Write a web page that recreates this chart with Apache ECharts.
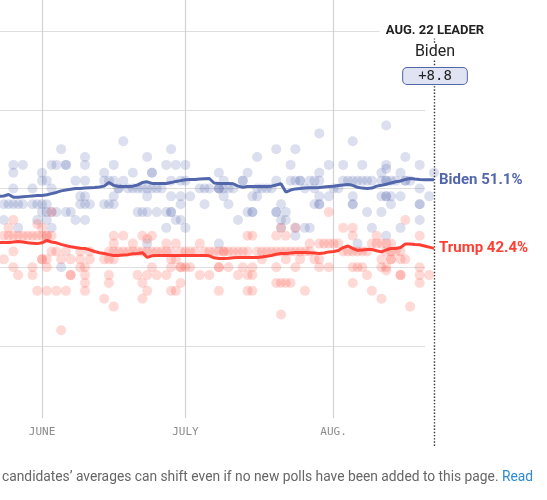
<!DOCTYPE html>
<html><head><meta charset="utf-8">
<script src="https://cdn.jsdelivr.net/npm/echarts@6/dist/echarts.min.js"></script>
<style>html,body{margin:0;padding:0;background:#fff}#c{width:547px;height:500px}</style>
</head><body><div id="c"></div>
<script>
// ---- data ----
const monthTicks = ['6/1', '7/1', '8/1'];
const monthLabels = ['JUNE', 'JULY', 'AUG.'];
const yGridValues = [30, 40, 50, 60, 70];
const leaderDate = '8/22';
const leaderLabel = 'AUG. 22 LEADER';
const leaderName = 'Biden';
const leaderMargin = 8.8;
const candidates = ['Biden', 'Trump'];

const avgStart = '5/23'; // one value per day from here to 8/22
const bidenAvg = [
  49.0, 49.05, 49.24, 48.9, 48.9, 48.95, 49.0, 49.05, 49.1,
  49.1, 49.2, 49.35, 49.5, 49.7, 49.8, 49.9, 50.0, 50.0, 50.05,
  50.1, 50.13, 50.2, 50.3, 50.76, 50.4, 50.25, 50.25, 50.25, 50.3,
  50.45, 50.75, 50.85, 50.65, 50.63, 50.63, 50.63, 50.75, 50.9, 51.0,
  51.1, 51.14, 51.15, 51.2, 51.25, 51.27, 50.7, 50.65, 50.65, 50.63,
  50.6, 50.3, 50.15, 50.25, 50.25, 50.25, 50.25, 50.25, 50.3, 50.45,
  50.6, 49.55, 49.8, 49.95, 50.0, 50.05, 50.1, 50.1, 50.13, 50.2, 50.25,
  50.3, 50.38, 50.45, 50.5, 50.4, 50.15, 50.05, 50.0, 50.05, 50.3,
  50.4, 50.55, 50.7, 50.85, 50.95, 51.15, 51.27, 51.2, 51.14, 51.1, 51.1, 51.1
];
const trumpAvg = [
  43.14, 43.14, 43.14, 43.2, 43.27, 43.2, 43.1, 43.05, 43.0,
  43.1, 43.4, 43.2, 43.1, 42.9, 42.75, 42.6, 42.5, 42.4, 42.38,
  42.2, 42.0, 41.85, 41.75, 41.6, 41.5, 41.5, 41.55, 41.6, 41.7,
  41.75, 41.85, 41.25, 41.45, 41.5, 41.5, 41.5, 41.5, 41.5, 41.5,
  41.5, 41.5, 41.5, 41.5, 41.5, 41.45, 41.2, 41.11, 41.11, 41.15,
  41.2, 41.24, 41.24, 41.24, 41.24, 41.25, 41.3, 41.4, 41.5, 41.65,
  41.75, 41.75, 41.8, 41.87, 41.87, 41.87, 41.85, 41.8, 41.75, 41.8, 41.95,
  42.0, 42.13, 42.5, 42.7, 42.4, 42.15, 42.2, 42.25, 42.25, 42.1,
  41.95, 42.2, 42.38, 42.38, 42.5, 42.95, 42.95, 42.89, 42.85, 42.7, 42.55, 42.4
];

const bidenPolls = [
  ['5/23',54],['5/23',48],['5/24',48],['5/24',46],['5/25',48],
  ['5/26',53],['5/26',52],['5/26',50],['5/26',48],['5/27',48],['5/27',45],
  ['5/28',53],['5/28',48],['5/30',50],['5/30',48],['5/31',48],['5/31',46],
  ['6/1',52],['6/1',51],['6/1',48],['6/1',47],['6/2',51],['6/2',48],['6/2',47],['6/2',46],
  ['6/3',53],['6/3',50],['6/3',47],['6/3',45],['6/4',53],['6/4',47],['6/5',55],['6/5',40],
  ['6/6',53],['6/6',53],['6/6',47],['6/7',47],['6/8',51],['6/8',46],['6/9',49],['6/9',48],
  ['6/10',54],['6/10',53],['6/10',51],['6/10',49],['6/10',48],['6/10',46],['6/11',48],
  ['6/14',52],['6/14',51],['6/14',48],['6/15',51],['6/15',48],
  ['6/16',53],['6/16',51],['6/16',49],['6/16',48],['6/17',50],['6/17',50],['6/18',56],['6/18',51],
  ['6/19',50],['6/20',52],['6/20',50],['6/21',50],['6/21',47],['6/22',50],['6/22',47],
  ['6/23',54],['6/23',50],['6/23',49],['6/23',47],['6/23',43],['6/24',52],['6/24',52],['6/24',50],
  ['6/25',50],['6/25',47],['6/26',50],['6/27',53],['6/27',47],['6/27',45],
  ['6/28',55],['6/28',51],['6/28',49],['6/28',47],['6/28',47],['6/29',53],['6/29',46],
  ['6/30',51],['6/30',49],['6/30',48],['6/30',46],['7/1',53],['7/1',51],['7/1',45],['7/2',49],
  ['7/4',50],['7/5',50],['7/5',48],['7/6',50],
  ['7/8',52],['7/8',50],['7/8',50],['7/8',50],['7/8',43],['7/9',51],['7/9',50],['7/9',49],
  ['7/10',50],['7/10',48],['7/11',50],['7/12',46],['7/13',51],['7/13',51],['7/14',52],['7/14',47],
  ['7/15',49],['7/15',47],['7/15',47],['7/16',54],['7/16',50],['7/16',49],['7/17',50],['7/18',50],['7/19',50],
  ['7/20',55],['7/20',51],['7/20',47],['7/20',47],['7/21',48],['7/21',46],['7/21',45],['7/22',47],['7/22',46],
  ['7/23',53],['7/23',51],['7/24',55],['7/24',51],['7/24',45],['7/24',44],['7/25',51],['7/25',51],
  ['7/26',50],['7/26',45],['7/27',51],['7/27',45],['7/28',51],['7/28',50],['7/28',48],
  ['7/29',57],['7/29',52],['7/29',51],['7/29',49],['7/29',48],['7/29',48],['7/31',53],['7/31',49],
  ['8/1',50],['8/2',50],['8/3',53],['8/3',51],['8/4',51],
  ['8/5',56],['8/5',51],['8/5',49],['8/5',48],['8/5',48],['8/6',51],['8/6',43],['8/7',53],['8/7',51],
  ['8/8',51],['8/8',47],['8/9',51],['8/9',45],['8/11',52],['8/11',51],['8/11',49],['8/11',47],
  ['8/12',58],['8/12',53],['8/12',52.5],['8/12',51],['8/12',51],['8/12',49],['8/12',49],['8/12',44],
  ['8/13',51],['8/13',49],['8/13',48],['8/14',51],['8/15',52],['8/15',49],['8/15',45],
  ['8/16',54],['8/16',51],['8/16',51],['8/17',51],
  ['8/19',53],['8/19',50],['8/19',48],['8/19',48],['8/19',46],['8/21',49],['8/22',52]
];
const trumpPolls = [
  ['5/23',44],['5/24',44],['5/24',41],['5/25',45],['5/25',44],
  ['5/26',46],['5/26',44],['5/26',42],['5/26',40],['5/27',44],['5/27',39],['5/28',44],['5/29',44],
  ['5/30',44],['5/30',40],['5/30',39],['5/31',45.5],['5/31',44],['5/31',37],
  ['6/1',45],['6/1',44],['6/1',41],['6/1',41],['6/2',44],['6/2',44],['6/2',41],['6/2',40],['6/2',37],
  ['6/3',47],['6/3',44],['6/3',42],['6/4',42],['6/4',37],['6/5',41],['6/5',32],['6/6',42],['6/6',37],
  ['6/7',41],['6/7',39],['6/7',39],['6/9',42],['6/9',41],['6/9',40],
  ['6/10',40],['6/10',39],['6/10',38],['6/10',37],['6/11',42],['6/11',41],['6/14',41],['6/14',36],
  ['6/15',42],['6/15',41],['6/15',39],['6/15',38],
  ['6/16',44],['6/16',43],['6/16',42],['6/16',41],['6/16',35],['6/17',42],['6/18',44],['6/18',42],
  ['6/19',42],['6/20',43],['6/20',42],['6/21',42],['6/21',39],['6/22',44],['6/22',42],['6/22',38],['6/22',36],
  ['6/23',43.6],['6/23',42],['6/23',39],['6/23',37],['6/24',44],['6/24',42],['6/24',40],
  ['6/25',42],['6/25',39],['6/26',42],['6/27',43],['6/27',42],['6/27',39],
  ['6/28',42],['6/28',41],['6/28',40],['6/28',37],['6/29',43],['6/29',41],['6/29',37],
  ['6/30',42],['6/30',40],['6/30',40],['6/30',38],['7/1',42],['7/1',40],['7/2',42],['7/2',40],['7/3',42],
  ['7/4',43],['7/4',39],['7/5',42],['7/6',42],['7/6',39],['7/7',42],
  ['7/8',42],['7/8',40],['7/8',40],['7/8',37],['7/9',42],['7/9',42],['7/10',42],['7/10',40],['7/11',42],
  ['7/12',42],['7/12',39],['7/13',42],['7/13',40],['7/14',44],['7/14',42],['7/14',39],['7/14',37],
  ['7/15',44],['7/15',40],['7/15',39],['7/15',37],['7/16',42],['7/17',42],['7/17',41],['7/18',42],['7/19',42],
  ['7/20',44],['7/20',42],['7/20',40],['7/20',38],['7/21',45],['7/21',42],['7/21',38],['7/21',34],
  ['7/22',44],['7/22',42],['7/22',41],['7/22',38],['7/23',42],['7/23',38],['7/24',45],['7/24',42],['7/24',40],
  ['7/25',42],['7/25',41],['7/26',42],['7/26',37],['7/27',43],['7/27',42],['7/28',41],
  ['7/29',43],['7/29',41],['7/29',40],['7/30',43],['7/31',47],['7/31',43],['7/31',40],
  ['8/1',43],['8/2',43],['8/3',45],['8/3',42],['8/4',42],
  ['8/5',45],['8/5',44],['8/5',42],['8/5',40],['8/5',38],['8/6',42],['8/6',40],['8/7',42],['8/7',40],
  ['8/8',42],['8/8',39],['8/9',43],['8/9',37],['8/10',44],['8/10',43],
  ['8/11',43],['8/11',41],['8/11',40],['8/11',36],['8/12',43],['8/12',42],['8/12',40],['8/12',39.6],
  ['8/13',43],['8/13',42],['8/13',41],['8/13',41],['8/14',42],['8/15',42],['8/15',41],['8/15',39],['8/15',39],
  ['8/16',46],['8/16',41],['8/17',35],['8/19',44],['8/19',40],['8/19',39],['8/19',38],['8/21',39]
];

// ---- helpers ----
const monthStart = {5: 121, 6: 152, 7: 182, 8: 213}; // day of year (0-based), 2020
function dayOf(md) { const p = md.split('/').map(Number); return monthStart[p[0]] + p[1] - 1; }
const startDay = dayOf(avgStart);
const leaderDay = dayOf(leaderDate);
const tickDays = monthTicks.map(dayOf);

const BLUE = '#5266ab', RED = '#ff3f33';
const X_MIN = 143.21, X_MAX = leaderDay;
const Y_MIN = 17.17, Y_MAX = 73.94;
const GRID_END = 232.1, TOP_GRID_END = 222.6, VLINE_BOTTOM = 20.857, DOT_TOP = 69.5;

const avgSeries = (vals) => vals.map((v, i) => [startDay + i, v]);
const polls = (arr) => arr.map(p => [dayOf(p[0]), p[1]]);

const hLines = yGridValues.map(v => [{coord: [X_MIN, v]}, {coord: [v === 70 ? TOP_GRID_END : GRID_END, v]}]);
const vLines = tickDays.map(d => [{coord: [d, Y_MAX]}, {coord: [d, VLINE_BOTTOM]}]);

const FONT = 'Roboto, "Noto Sans", sans-serif';
const chart = echarts.init(document.getElementById('c'), null, {renderer: 'canvas'});
chart.setOption({
  animation: false,
  grid: {left: 0, right: 547 - 434, top: 0, bottom: 500 - 447},
  xAxis: {
    type: 'value', min: X_MIN, max: X_MAX, offset: -29,
    axisLine: {show: false}, axisTick: {show: false}, splitLine: {show: false},
    axisLabel: {
      customValues: tickDays, margin: 9,
      formatter: (v) => monthLabels[tickDays.indexOf(Math.round(v))] || '',
      color: '#8c8c8c', fontSize: 11, fontFamily: '"DejaVu Sans Mono", monospace'
    }
  },
  yAxis: {
    type: 'value', min: Y_MIN, max: Y_MAX, show: false, splitLine: {show: false}
  },
  series: [
    {
      type: 'line', data: [], silent: true, z: 0,
      markLine: {
        silent: true, symbol: ['none', 'none'], label: {show: false}, z: 0,
        data: [
          ...hLines.map(l => [{...l[0], lineStyle: {color: '#dedede', width: 1.2, type: 'solid'}}, l[1]]),
          ...vLines.map(l => [{...l[0], lineStyle: {color: '#d2d2d2', width: 1.2, type: 'solid'}}, l[1]]),
          [{coord: [leaderDay, DOT_TOP], lineStyle: {color: '#333', width: 1.4, type: [1.4, 1.8]}}, {coord: [leaderDay, Y_MIN]}]
        ]
      }
    },
    {name: candidates[0] + ' polls', type: 'scatter', data: polls(bidenPolls), symbolSize: 10, z: 2,
     itemStyle: {color: 'rgba(84,103,174,0.26)'}, silent: true},
    {name: candidates[1] + ' polls', type: 'scatter', data: polls(trumpPolls), symbolSize: 10, z: 2,
     itemStyle: {color: 'rgba(255,72,60,0.26)'}, silent: true},
    {name: candidates[0], type: 'line', data: avgSeries(bidenAvg), showSymbol: false, symbol: 'none', z: 4,
     lineStyle: {color: BLUE, width: 3}, itemStyle: {color: BLUE},
     endLabel: {show: true, distance: 5, formatter: () => candidates[0] + ' ' + bidenAvg[bidenAvg.length - 1].toFixed(1) + '%',
       color: BLUE, fontWeight: 'bold', fontSize: 15, fontFamily: FONT}},
    {name: candidates[1], type: 'line', data: avgSeries(trumpAvg), showSymbol: false, symbol: 'none', z: 4,
     lineStyle: {color: RED, width: 3}, itemStyle: {color: RED},
     endLabel: {show: true, distance: 5, formatter: () => candidates[1] + ' ' + trumpAvg[trumpAvg.length - 1].toFixed(1) + '%',
       color: RED, fontWeight: 'bold', fontSize: 15, fontFamily: FONT}}
  ]
});

const px = chart.convertToPixel({xAxisIndex: 0, yAxisIndex: 0}, [leaderDay, 70]);
chart.setOption({
  graphic: [
    {type: 'text', x: px[0] + 1, y: 31, z: 10, style: {text: leaderLabel, align: 'center', verticalAlign: 'middle',
      fill: '#222', font: 'bold 13px ' + FONT, backgroundColor: '#fff', padding: [1, 2]}},
    {type: 'text', x: px[0] + 1, y: 52, z: 10, style: {text: leaderName, align: 'center', verticalAlign: 'middle',
      fill: '#222', font: '16px ' + FONT, backgroundColor: '#fff', padding: [0, 2]}},
    {type: 'text', x: px[0] + 1, y: 76, z: 10, style: {text: '+' + leaderMargin.toFixed(1), align: 'center', verticalAlign: 'middle',
      fill: '#222', font: '14px "DejaVu Sans Mono", monospace', backgroundColor: '#dfe3f2',
      borderColor: BLUE, borderWidth: 1, borderRadius: 4, padding: [1, 15]}},
    {type: 'text', x: 2, y: 478, z: 10, style: {
      text: '{a|candidates’ averages can shift even if no new polls have been added to this page.} {b|Read}',
      verticalAlign: 'middle',
      rich: {a: {fill: '#666', fontSize: 13.8, fontFamily: FONT}, b: {fill: '#2b8ad3', fontSize: 13.8, fontFamily: FONT}}
    }}
  ]
});
</script></body></html>
